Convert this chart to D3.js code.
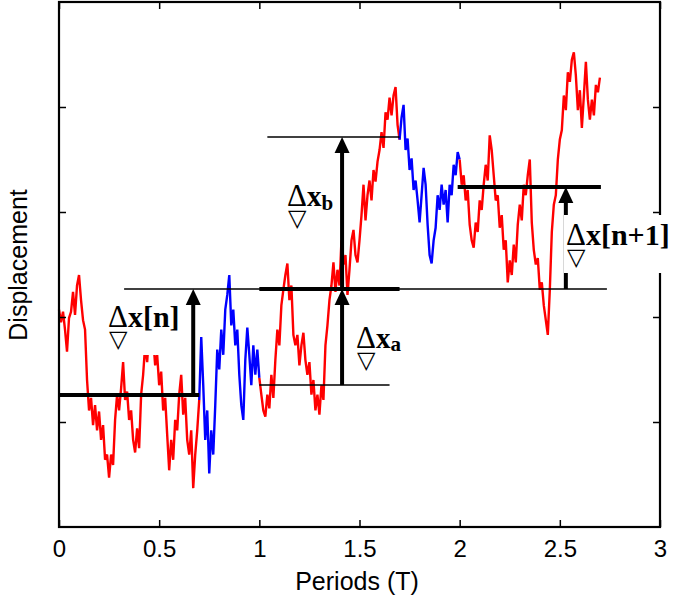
<!DOCTYPE html>
<html><head><meta charset="utf-8">
<script src="https://cdn.jsdelivr.net/npm/d3@7"></script>
<style>html,body{margin:0;padding:0;background:#fff}svg{display:block}</style>
</head><body>
<svg id="chart" width="677" height="601"></svg>
<script>
// ---------- DATA ----------
const sampleTimes = [
0.00,0.01,0.02,0.03,0.04,0.05,0.06,0.07,0.08,0.09,
0.10,0.11,0.12,0.13,0.14,0.15,0.16,0.17,0.18,0.19,
0.20,0.21,0.22,0.23,0.24,0.25,0.26,0.27,0.28,0.29,
0.30,0.31,0.32,0.33,0.34,0.35,0.36,0.37,0.38,0.39,
0.40,0.41,0.42,0.43,0.44,0.45,0.46,0.47,0.48,0.49,
0.50,0.51,0.52,0.53,0.54,0.55,0.56,0.57,0.58,0.59,
0.60,0.61,0.62,0.63,0.64,0.65,0.66,0.67,0.68,0.69,
0.70,0.71,0.72,0.73,0.74,0.75,0.76,0.77,0.78,0.79,
0.80,0.81,0.82,0.83,0.84,0.85,0.86,0.87,0.88,0.89,
0.90,0.91,0.92,0.93,0.94,0.95,0.96,0.97,0.98,0.99,
1.00,1.01,1.02,1.03,1.04,1.05,1.06,1.07,1.08,1.09,
1.10,1.11,1.12,1.13,1.14,1.15,1.16,1.17,1.18,1.19,
1.20,1.21,1.22,1.23,1.24,1.25,1.26,1.27,1.28,1.29,
1.30,1.31,1.32,1.33,1.34,1.35,1.36,1.37,1.38,1.39,
1.40,1.41,1.42,1.43,1.44,1.45,1.46,1.47,1.48,1.49,
1.50,1.51,1.52,1.53,1.54,1.55,1.56,1.57,1.58,1.59,
1.60,1.61,1.62,1.63,1.64,1.65,1.66,1.67,1.68,1.69,
1.70,1.71,1.72,1.73,1.74,1.75,1.76,1.77,1.78,1.79,
1.80,1.81,1.82,1.83,1.84,1.85,1.86,1.87,1.88,1.89,
1.90,1.91,1.92,1.93,1.94,1.95,1.96,1.97,1.98,1.99,
2.00,2.01,2.02,2.03,2.04,2.05,2.06,2.07,2.08,2.09,
2.10,2.11,2.12,2.13,2.14,2.15,2.16,2.17,2.18,2.19,
2.20,2.21,2.22,2.23,2.24,2.25,2.26,2.27,2.28,2.29,
2.30,2.31,2.32,2.33,2.34,2.35,2.36,2.37,2.38,2.39,
2.40,2.41,2.42,2.43,2.44,2.45,2.46,2.47,2.48,2.49,
2.50,2.51,2.52,2.53,2.54,2.55,2.56,2.57,2.58,2.59,
2.60,2.61,2.62,2.63,2.64,2.65,2.66,2.67,2.68,2.69,
2.70];

const displacement = [
2.07,1.95,2.05,1.88,1.67,1.99,2.05,2.24,2.02,2.30,
2.40,2.16,1.97,1.88,1.40,1.11,1.23,0.97,1.16,0.92,
1.10,0.83,0.97,0.64,0.69,0.47,0.69,0.59,1.02,1.26,
1.11,1.32,1.57,1.21,1.29,1.02,1.11,0.83,0.71,0.94,
0.75,1.26,1.45,1.73,1.57,1.86,1.67,1.80,1.54,1.64,
1.35,1.48,1.11,1.23,0.88,0.54,0.83,0.64,1.02,0.92,
1.26,1.45,1.07,1.23,0.83,0.69,0.92,0.37,0.69,0.92,
1.21,1.81,1.35,0.83,1.11,0.51,0.92,0.69,1.16,1.69,
1.50,1.88,1.64,2.07,2.21,2.40,1.92,2.07,1.73,1.88,
1.45,1.16,1.02,1.59,1.90,1.64,1.35,1.73,1.45,1.69,
1.42,1.26,1.11,1.05,1.26,1.13,1.45,1.23,1.59,1.88,
1.73,2.11,2.26,2.40,2.51,2.16,2.30,1.83,1.73,1.83,
1.54,1.73,1.85,1.59,1.45,1.57,1.26,1.40,1.11,1.26,
1.07,1.35,1.21,1.73,1.92,2.16,2.30,2.52,2.24,2.45,
2.30,2.73,2.50,2.59,2.21,2.45,2.73,2.83,2.59,2.52,
2.73,2.97,3.26,2.92,3.16,3.30,3.11,3.40,3.29,3.48,
3.59,3.76,3.61,3.95,3.88,4.09,3.92,4.11,4.19,3.83,
3.69,3.90,4.02,3.59,3.70,3.40,3.51,3.21,3.30,3.11,
2.90,3.16,3.42,3.26,2.88,2.59,2.51,2.73,2.85,3.16,
3.02,3.26,3.07,3.21,2.90,3.26,3.16,3.45,3.35,3.57,
3.50,3.26,3.35,3.11,3.21,2.88,2.73,2.66,2.90,2.81,
3.11,3.02,3.26,3.45,3.30,3.73,3.59,3.35,3.11,3.16,
2.85,2.97,2.64,2.73,2.33,2.54,2.40,2.69,2.52,2.88,
3.07,2.92,3.26,3.16,3.35,3.50,2.90,2.64,2.50,2.56,
2.26,2.33,2.11,1.97,1.83,2.26,2.81,3.07,3.16,3.50,
3.69,3.78,4.11,3.97,4.33,4.24,4.45,4.52,4.30,3.97,
4.16,3.80,4.11,4.43,4.07,3.88,4.07,3.92,4.21,4.14,
4.28];

// periods during which the trace is drawn in each colour
const regimeStart = [0.00, 0.70, 1.00, 1.70, 2.00];
const regimeEnd   = [0.70, 1.00, 1.70, 2.00, 2.70];
const regimeColor = ["#ff0000", "#0000ff", "#ff0000", "#0000ff", "#ff0000"];

// reference levels (displacement) and their extent in periods
const levelValue = [1.257, 2.267, 2.267, 1.352, 3.714, 3.238];
const levelFrom  = [0.00, 0.325, 1.00, 1.00, 1.04, 1.99];
const levelTo    = [0.70, 2.735, 1.70, 1.65, 1.70, 2.705];
const levelHeavy = [true, false, true, false, false, true];

// displacement increments (arrows)
const arrowAt   = [0.67, 1.413, 1.413, 2.53];
const arrowFrom = [1.257, 1.352, 2.267, 2.267];
const arrowTo   = [2.267, 2.267, 3.714, 3.238];

const xTicks = [0, 0.5, 1, 1.5, 2, 2.5, 3];
const xTickLabels = ["0", "0.5", "1", "1.5", "2", "2.5", "3"];
const yTicks = [1, 2, 3, 4];

// ---------- CHART ----------
const svg = d3.select("#chart");
const x = d3.scaleLinear().domain([0, 3]).range([59, 660]);
const y = d3.scaleLinear().domain([0, 5]).range([527, 2]);

// trace
const pts = sampleTimes.map((t, i) => ({t, v: displacement[i]}));
const line = d3.line().x(d => x(d.t)).y(d => y(d.v));
regimeStart.forEach((s, i) => {
  const seg = pts.filter(p => p.t >= s - 1e-9 && p.t <= regimeEnd[i] + 1e-9);
  svg.append("path").datum(seg)
    .attr("d", line)
    .attr("fill", "none")
    .attr("stroke", regimeColor[i])
    .attr("stroke-width", 2.4)
    .attr("stroke-miterlimit", 2);
});

// axes (ticks inward, no labels on y)
const axisFont = "'Liberation Sans', Arial, sans-serif";
const gB = svg.append("g").attr("transform", `translate(0,${y(0)})`)
  .call(d3.axisBottom(x).tickValues(xTicks).tickFormat((d, i) => xTickLabels[i])
        .tickSizeInner(-7).tickSizeOuter(0).tickPadding(13));
const gT = svg.append("g").attr("transform", `translate(0,${y(5)})`)
  .call(d3.axisTop(x).tickValues(xTicks).tickFormat("").tickSizeInner(-7).tickSizeOuter(0));
const gL = svg.append("g").attr("transform", `translate(${x(0)},0)`)
  .call(d3.axisLeft(y).tickValues(yTicks).tickFormat("").tickSizeInner(-7).tickSizeOuter(0));
const gR = svg.append("g").attr("transform", `translate(${x(3)},0)`)
  .call(d3.axisRight(y).tickValues(yTicks).tickFormat("").tickSizeInner(-7).tickSizeOuter(0));
[gB, gT, gL, gR].forEach(g => {
  g.select(".domain").remove();
  g.selectAll(".tick line").attr("stroke", "#000").attr("stroke-width", 1.5);
});
gB.selectAll(".tick text").attr("font-family", axisFont).attr("font-size", 24).attr("fill", "#000");

svg.append("rect")
  .attr("x", x(0)).attr("y", y(5))
  .attr("width", x(3) - x(0)).attr("height", y(0) - y(5))
  .attr("fill", "none").attr("stroke", "#000").attr("stroke-width", 2.2);

// axis titles
svg.append("text").attr("x", 357).attr("y", 590)
  .attr("text-anchor", "middle").attr("font-family", axisFont).attr("font-size", 25)
  .text("Periods (T)");
svg.append("text").attr("transform", "translate(27,265) rotate(-90)")
  .attr("text-anchor", "middle").attr("font-family", axisFont).attr("font-size", 25)
  .text("Displacement");

// reference levels
levelValue.forEach((v, i) => {
  svg.append("line")
    .attr("x1", x(levelFrom[i])).attr("x2", x(levelTo[i]))
    .attr("y1", y(v)).attr("y2", y(v))
    .attr("stroke", "#000").attr("stroke-width", levelHeavy[i] ? 4 : 1.5);
});

// arrows
arrowAt.forEach((t, i) => {
  const cx = x(t), yTop = y(arrowTo[i]), yBot = y(arrowFrom[i]);
  svg.append("line").attr("x1", cx).attr("x2", cx)
    .attr("y1", yBot).attr("y2", yTop + 14)
    .attr("stroke", "#000").attr("stroke-width", 4);
  svg.append("path")
    .attr("d", `M${cx - 7.5},${yTop + 16}L${cx + 7.5},${yTop + 16}L${cx},${yTop}Z`)
    .attr("fill", "#000");
});

// labels: one text element each, the ∇ sits on a second line under the Δ
const serif = "'Liberation Serif', 'Times New Roman', serif";
function label(px, py, main, sub, subSize, subDy, mainSize) {
  const g = svg.append("g");
  const bg = g.append("rect").attr("fill", "#fff");
  const t = g.append("text").attr("x", px).attr("y", py)
    .attr("font-family", serif).attr("fill", "#000");
  t.append("tspan").attr("font-size", 31).text("Δ");
  t.append("tspan").attr("font-size", mainSize).attr("font-weight", "bold").text(main);
  let back = 0;
  if (sub) { t.append("tspan").attr("font-size", subSize).attr("font-weight", "bold")
    .attr("dy", subDy).text(sub); back = subDy; }
  t.append("tspan").attr("x", px + 1).attr("dy", 20 - back)
    .attr("font-family", "'DejaVu Sans', sans-serif").attr("font-size", 24).text("▽");
  const b = g.node().getBBox();
  bg.attr("x", b.x - 2).attr("y", b.y - 2).attr("width", b.width + 4).attr("height", b.height + 4);
  return g;
}
label(108, 327, "x[n]", null, 0, 0, 30);
label(287, 206, "x", "b", 21, 4, 29);
label(356, 348, "x", "a", 21, 3, 29);
label(566, 245, "x[n+1]", null, 0, 0, 30);
</script>
</body></html>
